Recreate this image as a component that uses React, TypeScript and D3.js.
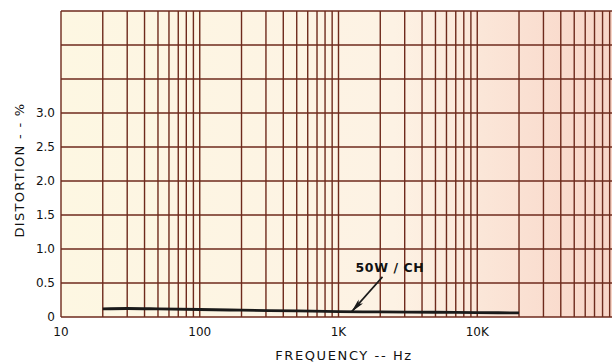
import React from "react";
import * as d3 from "d3";

// Distortion vs frequency at 50 W per channel
const freqs = [20, 30, 50, 100, 200, 500, 1000, 2000, 5000, 10000, 20000];
const distortion = [0.12, 0.125, 0.12, 0.11, 0.1, 0.09, 0.08, 0.075, 0.07, 0.065, 0.06];
const xTickValues = [10, 100, 1000, 10000];
const xTickLabels = ["10", "100", "1K", "10K"];
const yTickValues = [0, 0.5, 1.0, 1.5, 2.0, 2.5, 3.0];
const yTickLabels = ["0", "0.5", "1.0", "1.5", "2.0", "2.5", "3.0"];
const yGridValues = [0, 0.5, 1, 1.5, 2, 2.5, 3, 3.5, 4, 4.5];
const seriesLabel = "50W/CH";

const W = 612, H = 364;
const left = 61, right = 616, top = 11, bottom = 317;
const grid = "#6e2a1c";
const font = "'DejaVu Sans', sans-serif";

export default function App() {
  const x = d3.scaleLog().domain([10, 100000]).range([left, right]);
  const y = d3.scaleLinear().domain([0, 4.5]).range([bottom, top]);

  // every 1..9 multiple of each decade
  const vLines: number[] = [];
  for (let dec = 10; dec < 100000; dec *= 10) {
    for (let m = 1; m <= 9; m++) vLines.push(dec * m);
  }

  const line = d3
    .line<number>()
    .x((_, i) => x(freqs[i]))
    .y(d => y(d))
    .curve(d3.curveMonotoneX);

  const arrowTail = { f: 2075, v: 0.59 };
  const arrowTip = { f: 1240, v: 0.075 };

  return (
    <svg width={W} height={H} style={{ position: "absolute", left: 0, top: 0 }}>
      <defs>
        <linearGradient id="paper" x1="0" x2="1" y1="0" y2="0">
          <stop offset="0" stopColor="#fdf7e2" />
          <stop offset="0.6" stopColor="#fdf2e4" />
          <stop offset="1" stopColor="#f8d4c6" />
        </linearGradient>
        <marker id="head" viewBox="0 0 14 6" refX="14" refY="3" markerWidth="14" markerHeight="6" orient="auto" markerUnits="userSpaceOnUse">
          <path d="M0,0 L14,3 L0,6 L3,3 Z" fill="#1a1a1a" />
        </marker>
      </defs>
      <rect x={0} y={0} width={W} height={H} fill="#ffffff" />
      <rect x={left} y={top} width={right - left} height={bottom - top} fill="url(#paper)" />

      {/* horizontal grid */}
      {yGridValues.map(v => (
        <line key={"h" + v} x1={left} x2={right} y1={y(v)} y2={y(v)} stroke={grid} strokeWidth={1.4} />
      ))}
      {/* vertical grid */}
      {vLines.map(f => (
        <line key={"v" + f} x1={x(f)} x2={x(f)} y1={top} y2={bottom} stroke={grid} strokeWidth={1.4} />
      ))}

      {/* data */}
      <path d={line(distortion) ?? ""} fill="none" stroke="#1a1a1a" strokeWidth={2.8} />

      {/* annotation */}
      <line
        x1={x(arrowTail.f)} y1={y(arrowTail.v)}
        x2={x(arrowTip.f)} y2={y(arrowTip.v)}
        stroke="#1a1a1a" strokeWidth={1.6} markerEnd="url(#head)"
      />
      <text x={390} y={272} textAnchor="middle" fontFamily={font} fontWeight="bold" fontSize={12.5} letterSpacing={0.6} fill="#111">
        {seriesLabel.replace("/", " / ")}
      </text>

      {/* y ticks */}
      {yTickValues.map((v, i) => (
        <text key={"yt" + v} x={55} y={y(v) + 4} textAnchor="end" fontFamily={font} fontSize={12} fill="#111">
          {yTickLabels[i]}
        </text>
      ))}
      {/* x ticks */}
      {xTickValues.map((v, i) => (
        <text key={"xt" + v} x={x(v)} y={336} textAnchor="middle" fontFamily={font} fontSize={12} fill="#111">
          {xTickLabels[i]}
        </text>
      ))}

      <text x={344} y={360} textAnchor="middle" fontFamily={font} fontSize={13} letterSpacing={1.6} fill="#111">
        FREQUENCY -- Hz
      </text>
      <text
        transform={`translate(24,170) rotate(-90)`}
        textAnchor="middle" fontFamily={font} fontSize={13} letterSpacing={1.3} fill="#111"
      >
        DISTORTION - - %
      </text>
    </svg>
  );
}
